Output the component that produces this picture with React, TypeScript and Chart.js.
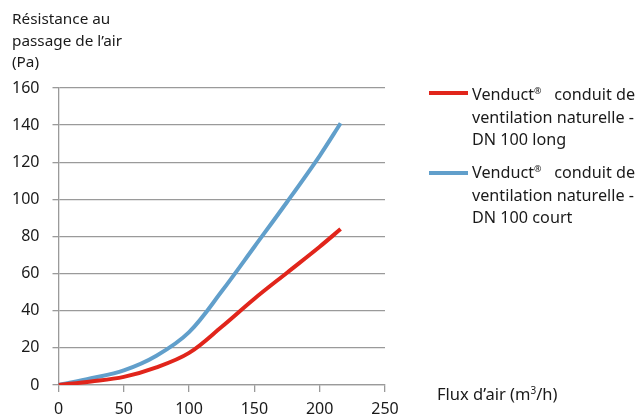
import React, { useEffect, useRef } from "react";
import { Chart, registerables } from "chart.js";

Chart.register(...registerables);

const flux = [0, 25, 50, 75, 100, 125, 150, 175, 200, 216];
const longSeries = [0, 1.9, 4.4, 9.5, 17.3, 31.4, 46.5, 60.5, 74.5, 84];
const courtSeries = [0, 3.6, 7.9, 15.8, 28.5, 50.5, 74.5, 98.6, 123.5, 141];
const xTicks = [0, 50, 100, 150, 200, 250];
const yTicks = [0, 20, 40, 60, 80, 100, 120, 140, 160];

const RED = "#E1251B";
const BLUE = "#619FCB";
const FONT = "'Noto Sans', sans-serif";
const TEXT = "#1a1a1a";
const GRID = "#9a9a9a";

export default function App() {
  const ref = useRef<HTMLCanvasElement | null>(null);

  useEffect(() => {
    if (!ref.current) return;
    const chart = new Chart(ref.current, {
      type: "line",
      data: {
        datasets: [
          {
            label: "Venduct® conduit de ventilation naturelle - DN 100 long",
            data: flux.map((x, i) => ({ x, y: longSeries[i] })),
            borderColor: RED,
            borderWidth: 4,
            pointRadius: 0,
            tension: 0.35,
          },
          {
            label: "Venduct® conduit de ventilation naturelle - DN 100 court",
            data: flux.map((x, i) => ({ x, y: courtSeries[i] })),
            borderColor: BLUE,
            borderWidth: 4,
            pointRadius: 0,
            tension: 0.35,
          },
        ],
      },
      options: {
        animation: false,
        responsive: false,
        maintainAspectRatio: false,
        layout: { padding: { left: 0, top: 88, right: 643 - 385, bottom: 0 } },
        plugins: { legend: { display: false }, tooltip: { enabled: false } },
        scales: {
          x: {
            type: "linear",
            min: 0,
            max: 250,
            afterFit: (s: any) => {
              s.height = 414 - 385;
            },
            afterBuildTicks: (s: any) => {
              s.ticks = xTicks.map((v) => ({ value: v }));
            },
            ticks: { font: { family: FONT, size: 16 }, color: TEXT, padding: 8, maxRotation: 0 },
            grid: { drawOnChartArea: false, drawTicks: true, tickLength: 7, color: GRID, lineWidth: 1.3 },
            border: { display: true, color: GRID, width: 1.3 },
          },
          y: {
            min: 0,
            max: 160,
            afterFit: (s: any) => {
              s.width = 58.5;
            },
            afterBuildTicks: (s: any) => {
              s.ticks = yTicks.map((v) => ({ value: v }));
            },
            ticks: { font: { family: FONT, size: 16 }, color: TEXT, padding: 13 },
            grid: { drawOnChartArea: true, drawTicks: true, tickLength: 6, color: GRID, lineWidth: 1.3 },
            border: { display: true, color: GRID, width: 1.3 },
          },
        },
      },
    });
    return () => chart.destroy();
  }, []);

  const textStyle: React.CSSProperties = {
    position: "absolute",
    fontFamily: FONT,
    fontSize: 16.2,
    color: TEXT,
    lineHeight: "22.5px",
    whiteSpace: "nowrap",
  };

  return (
    <div style={{ position: "fixed", left: 0, top: 0, width: 643, height: 414, background: "#fff" }}>
      <canvas ref={ref} width={643} height={414} style={{ position: "absolute", left: 0, top: 0, width: 643, height: 414 }} />
      <div style={{ ...textStyle, fontSize: 15.3, left: 12, top: 8, lineHeight: "21.5px" }}>
        Résistance au
        <br />
        passage de l’air
        <br />
        (Pa)
      </div>
      <div style={{ ...textStyle, fontSize: 16.5, left: 437, top: 383 }}>
        Flux d’air (m<sup style={{ fontSize: 10, lineHeight: 0 }}>3</sup>/h)
      </div>
      <div style={{ position: "absolute", left: 429, top: 91, width: 39, height: 4, background: RED }} />
      <div style={{ ...textStyle, left: 472, top: 83 }}>
        Venduct<sup style={{ fontSize: 9, lineHeight: 0 }}>®</sup>&nbsp;&nbsp; conduit de
        <br />
        ventilation naturelle -
        <br />
        DN 100 long
      </div>
      <div style={{ position: "absolute", left: 429, top: 171, width: 39, height: 4, background: BLUE }} />
      <div style={{ ...textStyle, left: 472, top: 161 }}>
        Venduct<sup style={{ fontSize: 9, lineHeight: 0 }}>®</sup>&nbsp;&nbsp; conduit de
        <br />
        ventilation naturelle -
        <br />
        DN 100 court
      </div>
    </div>
  );
}
